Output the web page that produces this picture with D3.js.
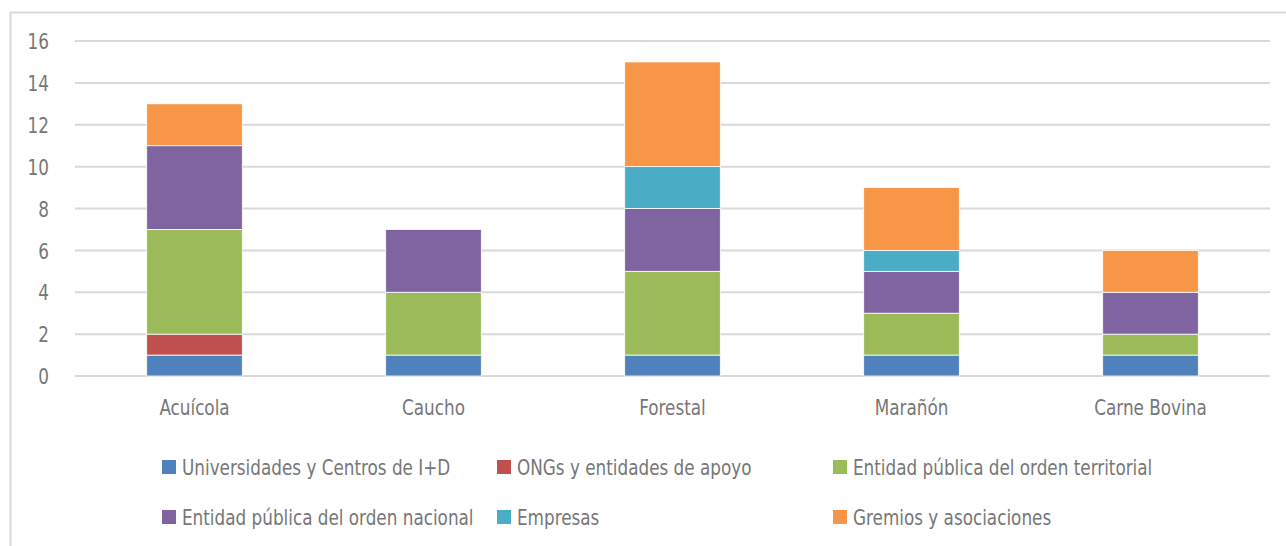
<!DOCTYPE html>
<html lang="es">
<head>
<meta charset="UTF-8">
<title>Actores por cadena productiva</title>
<script src="https://d3js.org/d3.v7.min.js"></script>
<style>
  body { margin: 0; background: #fff; }
  svg text { font-family: "DejaVu Sans Condensed", "Liberation Sans Narrow", sans-serif; fill: #777; }
  .grid line { stroke: #d9d9d9; stroke-width: 2; }
</style>
</head>
<body>
<svg width="1286" height="546"></svg>
<script>
// Data
const categories = ["Acuícola", "Caucho", "Forestal", "Marañón", "Carne Bovina"];
const seriesNames = [
  "Universidades y Centros de I+D",
  "ONGs y entidades de apoyo",
  "Entidad pública del orden territorial",
  "Entidad pública del orden nacional",
  "Empresas",
  "Gremios y asociaciones"
];
const universidades = [1, 1, 1, 1, 1];
const ongs          = [1, 0, 0, 0, 0];
const territorial   = [5, 3, 4, 2, 1];
const nacional      = [4, 3, 3, 2, 2];
const empresas      = [0, 0, 2, 1, 0];
const gremios       = [2, 0, 5, 3, 2];
const yTicks = [0, 2, 4, 6, 8, 10, 12, 14, 16];

const colors = ["#4F81BD", "#C0504D", "#9BBB59", "#8064A2", "#4BACC6", "#F79646"];
const allSeries = [universidades, ongs, territorial, nacional, empresas, gremios];

// squeeze the text a bit so it looks like the narrow font of the original
const squeeze = "scale(0.85,1)";

// build table for d3.stack
const table = categories.map((c, i) => {
  const row = { cat: c };
  seriesNames.forEach((s, j) => row[s] = allSeries[j][i]);
  return row;
});

const svg = d3.select("svg");

// outer frame (left + top edges only are visible)
svg.append("path")
  .attr("d", "M10.5,546 V12.5 H1286")
  .attr("fill", "none")
  .attr("stroke", "#d9d9d9")
  .attr("stroke-width", 2);

const x = d3.scaleBand().domain(categories).range([75, 1270]).paddingInner(0.6).paddingOuter(0.3);
const y = d3.scaleLinear().domain([0, 16]).range([376, 41]);

// gridlines
svg.append("g").attr("class", "grid")
  .selectAll("line").data(yTicks).join("line")
  .attr("x1", 75).attr("x2", 1270)
  .attr("y1", d => y(d)).attr("y2", d => y(d));

// y axis labels
const yAxis = d3.axisLeft(y).tickValues(yTicks).tickSize(0).tickPadding(0);
svg.append("g")
  .attr("transform", "translate(49,0)")
  .call(yAxis)
  .call(g => g.select(".domain").remove())
  .call(g => g.selectAll("text").attr("font-size", 22).attr("dy", "0.35em").attr("transform", squeeze));

// x axis labels
const xAxis = d3.axisBottom(x).tickSize(0).tickPadding(0);
svg.append("g")
  .attr("transform", "translate(0,400)")
  .call(xAxis)
  .call(g => g.select(".domain").remove())
  .call(g => g.selectAll("text").attr("font-size", 22).attr("dy", "0.7em").attr("transform", squeeze));

// stacked bars
const stack = d3.stack().keys(seriesNames);
const layers = stack(table);

svg.append("g").selectAll("g").data(layers).join("g")
  .attr("fill", (d, i) => colors[i])
  .selectAll("rect").data(d => d.filter(p => p[1] > p[0])).join("rect")
  .attr("x", d => x(d.data.cat))
  .attr("width", x.bandwidth())
  .attr("y", d => y(d[1]))
  .attr("height", d => y(d[0]) - y(d[1]))
  .attr("stroke", "#fff")
  .attr("stroke-width", 0.8);

// legend
const legendPos = [
  [162, 467], [497, 467], [833, 467],
  [162, 517], [497, 517], [833, 517]
];
const legend = svg.append("g").selectAll("g").data(seriesNames).join("g")
  .attr("transform", (d, i) => `translate(${legendPos[i][0]},${legendPos[i][1]})`);
legend.append("rect")
  .attr("x", 0).attr("y", -7).attr("width", 14).attr("height", 14)
  .attr("fill", (d, i) => colors[i]);
legend.append("g")
  .attr("transform", "translate(20,0)")
  .append("text")
  .attr("dy", "0.35em")
  .attr("font-size", 22)
  .attr("transform", squeeze)
  .text(d => d);
</script>
</body>
</html>
